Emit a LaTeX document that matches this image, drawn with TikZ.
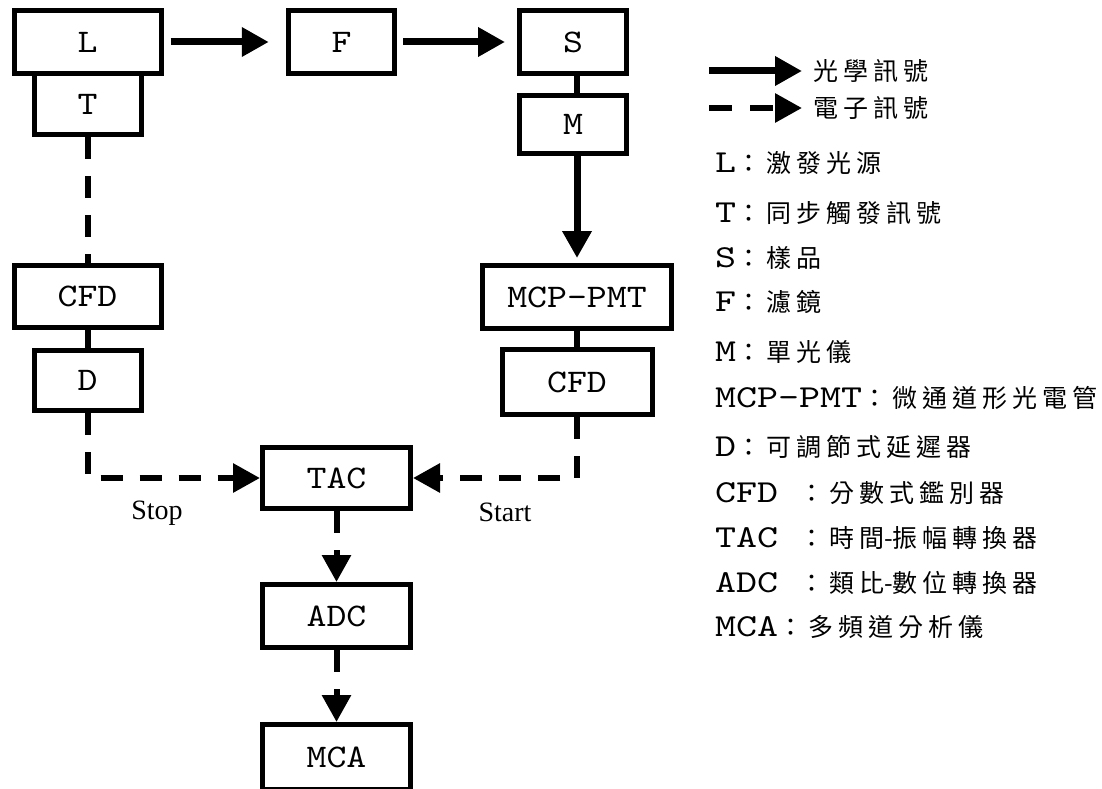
\documentclass[tikz,border=0pt]{standalone}
\usepackage{fontspec}
\usepackage{tikz}
\usetikzlibrary{arrows.meta}
\newfontfamily\boxfont{lmmono10-regular.otf}[FakeStretch=1.15]
\newfontfamily\abbrfont{lmmono10-regular.otf}[FakeStretch=1.25]
\newfontfamily\tagfont{Liberation Serif}
\newfontfamily\cjkfont{Noto Sans CJK TC}
\newcommand\legabbr[1]{{\abbrfont\fontsize{32}{36}\selectfont #1}}
\XeTeXinterchartokenstate=1
\newXeTeXintercharclass\hanclass
\newcount\hancode
\hancode="4E00
\loop
  \XeTeXcharclass\hancode=\hanclass
  \advance\hancode by 1
\ifnum\hancode<"A000 \repeat
\XeTeXcharclass"FF1A=\hanclass
\XeTeXinterchartoks\hanclass\hanclass={\hskip5pt\relax}

\begin{document}
\begin{tikzpicture}[x=1pt, y=-1pt,
        blk/.style={draw, line width=5pt, inner sep=0pt, font=\boxfont\fontsize{33}{40}\selectfont},
        optic/.style={line width=7pt, -{Triangle[length=27pt, width=28pt]}},
        elec/.style={line width=6pt, dash pattern=on 22pt off 17pt, -{Triangle[length=27pt, width=28pt]}},
        elecline/.style={line width=6pt, dash pattern=on 22pt off 17pt},
        link/.style={line width=6pt},
        tag/.style={font=\tagfont\fontsize{28}{32}\selectfont},
        legtext/.style={anchor=west, inner sep=0pt, font=\cjkfont\fontsize{25}{30}\selectfont}]
            \useasboundingbox (0, 0) rectangle (1102, 789);

            \node[blk, minimum width=147pt, minimum height=63pt] (L) at (87.5, 42) {L};
            \node[blk, minimum width=107pt, minimum height=61pt] (T) at (87.5, 104) {T};
            \node[blk, minimum width=106.5pt, minimum height=63pt] (F) at (341.5, 42) {F};
            \node[blk, minimum width=107pt, minimum height=63pt] (S) at (573, 42) {S};
            \node[blk, minimum width=107pt, minimum height=58pt] (M) at (573, 124.5) {M};
            \node[blk, minimum width=189pt, minimum height=63pt] (MCP) at (577, 297) {MCP-PMT};
            \node[blk, minimum width=150pt, minimum height=65pt] (CFDr) at (577, 382) {CFD};
            \node[blk, minimum width=147pt, minimum height=62pt] (CFDl) at (87.5, 296.5) {CFD};
            \node[blk, minimum width=107pt, minimum height=60pt] (D) at (87.5, 380.5) {D};
            \node[blk, minimum width=148pt, minimum height=61pt] (TAC) at (336.5, 478) {TAC};
            \node[blk, minimum width=148pt, minimum height=63pt] (ADC) at (336.5, 616) {ADC};
            \node[blk, minimum width=148pt, minimum height=65pt] (MCA) at (336.5, 757) {MCA};

            \draw[optic, shorten <=7pt, shorten >=17pt] (L) -- (F);
            \draw[optic, shorten <=6pt, shorten >=12pt] (F) -- (S);
            \draw[link] (S.south -| MCP.north) -- (M.north -| MCP.north);
            \draw[optic, shorten >=5pt] (M.south -| MCP.north) -- (MCP.north);
            \draw[link] (MCP) -- (CFDr);
            \draw[link] (CFDl) -- (D);

            \draw[elecline] (T) -- (CFDl);
            \draw[elec] (D.south) |- (TAC.west);
            \draw[elec] (CFDr.south) |- (TAC.east);
            \draw[elec] (TAC) -- (ADC);
            \draw[elec] (ADC) -- (MCA);

            \node[tag] (stop) at (157, 513) {Stop};
            \node[tag] (start) at (505, 512) {Start};

            \coordinate (o1) at (709, 71);
            \coordinate (o2) at (802, 71);
            \draw[optic] (o1) -- (o2);
            \node[legtext] (optxt) at (813, 71) {光學訊號};
            \coordinate (e1) at (709, 108);
            \coordinate (e2) at (802, 108);
            \draw[elec, dash pattern=on 23pt off 18pt] (e1) -- (e2);
            \node[legtext] (eltxt) at (813, 108) {電子訊號};

            \node[legtext] (kL) at (715, 163) {\legabbr{L}：激發光源};
            \node[legtext] (kT) at (715, 213) {\legabbr{T}：同步觸發訊號};
            \node[legtext] (kS) at (715, 258) {\legabbr{S}：樣品};
            \node[legtext] (kF) at (715, 302) {\legabbr{F}：濾鏡};
            \node[legtext] (kM) at (715, 352) {\legabbr{M}：單光儀};
            \node[legtext] (kMCP) at (715, 398) {\legabbr{MCP-PMT}：微通道形光電管};
            \node[legtext] (kD) at (715, 447) {\legabbr{D}：可調節式延遲器};
            \node[legtext] (kCFD) at (715, 493) {\legabbr{CFD }：分數式鑑別器};
            \node[legtext] (kTAC) at (715, 538) {\legabbr{TAC }：時間-振幅轉換器};
            \node[legtext] (kADC) at (715, 583) {\legabbr{ADC }：類比-數位轉換器};
            \node[legtext] (kMCA) at (715, 627) {\legabbr{MCA}：多頻道分析儀};

        \end{tikzpicture}
\end{document}
